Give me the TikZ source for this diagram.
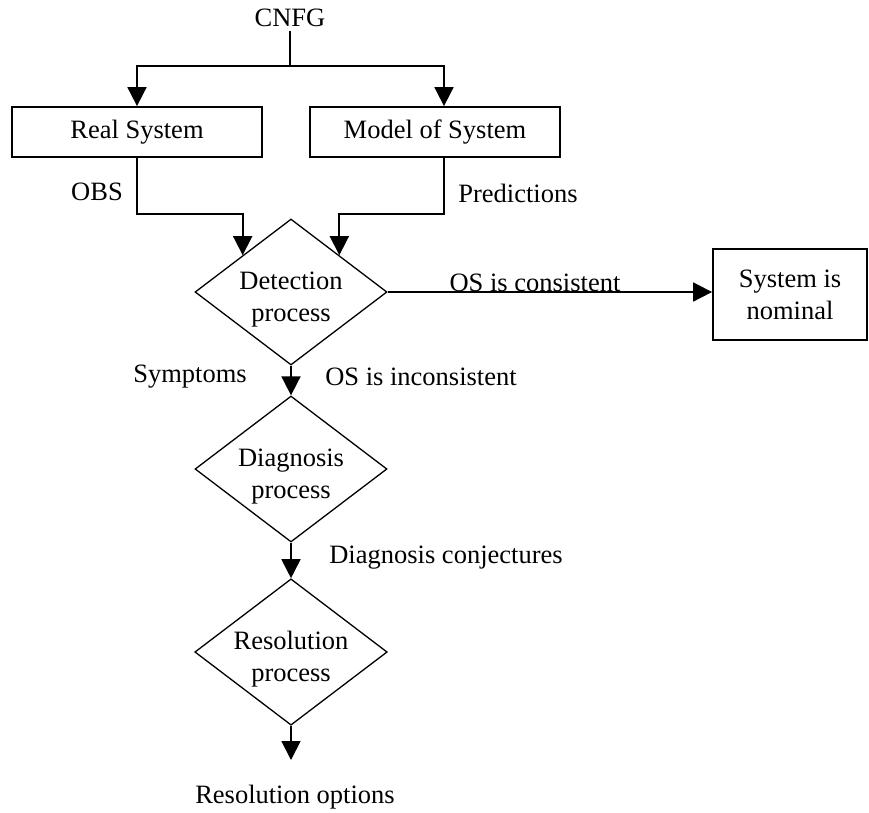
\documentclass[tikz,border=0pt]{standalone}
\usepackage{fontspec}
\setmainfont{Liberation Serif}
\usetikzlibrary{shapes.geometric,arrows.meta}
\begin{document}
\begin{tikzpicture}[x=1pt, y=-1pt, line width=1.8pt,
    >={Triangle[length=19pt,width=19pt]},
    every node/.style={font=\fontsize{26.5}{32}\selectfont, align=center},
    box/.style={draw, minimum width=250pt, minimum height=50pt, inner sep=0pt},
    decide/.style={draw, diamond, line width=1.3pt, minimum width=192pt,
        minimum height=146pt, aspect=1.315, inner sep=0pt,
        text height=59pt, text depth=-1.5pt}]

    \useasboundingbox (0,0) rectangle (869,812);

    % === top: CNFG and the two systems ===
    \node (cnfg) at (290,18) {CNFG};
    \coordinate (split) at (290,66);
    \node[box] (real) at (137,132) {Real System};
    \node[box] (model) at (435,132) {Model of System};
    \coordinate (obsbend) at (137,214);
    \coordinate (predbend) at (444,214);

    \draw (cnfg) -- (split);
    \draw[->] (split) -| (real.north);
    \draw[->] (split) -| (predbend |- model.north);

    % === detection ===
    \node[decide] (detect) at (291,292) {Detection\\process};
    \node[draw, minimum width=154pt, minimum height=91pt, inner sep=0pt] (nominal)
        at (790,294.5) {System is\\nominal};

    \draw[->] (real.south) -- (obsbend) -| (detect.north west);
    \draw[->] (predbend |- model.south) -- (predbend) -| (detect.north east);
    \draw[->] (detect.east) -- (detect.east -| nominal.west);

    \node (obs) at (97,192) {OBS};
    \node (pred) at (518,193) {Predictions};
    \node (cons) at (535,283) {OS is consistent};

    % === diagnosis and resolution ===
    \node[decide] (diag) at (291,469) {Diagnosis\\process};
    \node[decide] (resol) at (291,652) {Resolution\\process};
    \coordinate (optend) at (291,760);

    \draw[->] (detect.south) -- (diag.north);
    \draw[->] (diag.south) -- (resol.north);
    \draw[->] (resol.south) -- (optend);

    \node (sympt) at (190,377) {Symptoms};
    \node (incons) at (421,377) {OS is inconsistent};
    \node (conj) at (446,558) {Diagnosis conjectures};
    \node (options) at (295,797) {Resolution options};

\end{tikzpicture}
\end{document}
